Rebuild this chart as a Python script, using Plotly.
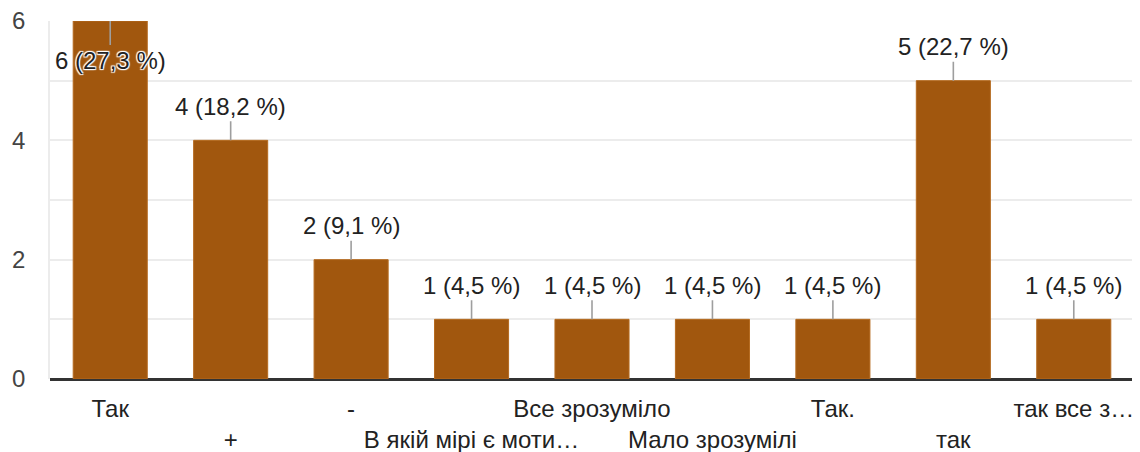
import plotly.graph_objects as go

categories = ["Так", "+", "-", "В якій мірі є моти…", "Все зрозуміло",
              "Мало зрозумілі", "Так.", "так", "так все з…"]
counts = [6, 4, 2, 1, 1, 1, 1, 5, 1]
percents = ["27,3", "18,2", "9,1", "4,5", "4,5", "4,5", "4,5", "22,7", "4,5"]
y_ticks = [0, 2, 4, 6]

BAR = "#a1570e"
FONT = "Liberation Sans, Arial, sans-serif"

x = list(range(len(categories)))
ticktext = [c if i % 2 == 0 else "<br>" + c for i, c in enumerate(categories)]

fig = go.Figure()
fig.add_trace(go.Bar(
    x=x, y=counts, marker=dict(color=BAR, line=dict(color="#b56a1f", width=1)),
    width=0.615, hoverinfo="skip",
))

ymax = max(counts)
halo = "1px 1px 1px white, -1px -1px 1px white, 1px -1px 1px white, -1px 1px 1px white, 0 0 2px white"
for i, (c, p) in enumerate(zip(counts, percents)):
    inside = c >= ymax
    fig.add_annotation(
        x=i, y=c, xref="x", yref="y",
        text=f"{c} ({p} %)",
        showarrow=True, arrowhead=0, arrowwidth=1.6, arrowcolor="#9e9e9e",
        ax=0, ay=(39 if inside else -34), standoff=0,
        font=dict(family=FONT, size=24, color="#222222",
                  shadow=halo if inside else "none"),
    )

# page body has an 8px default margin; figure sized to fit the 1140x452 window
fig.update_layout(
    width=1132, height=444,
    margin=dict(l=42, r=6, t=13, b=73),
    paper_bgcolor="white", plot_bgcolor="white",
    showlegend=False,
    font=dict(family=FONT, size=24, color="#444444"),
    bargap=0.385,
    xaxis=dict(
        tickmode="array", tickvals=x, ticktext=ticktext,
        range=[-0.5, len(categories) - 0.5],
        showgrid=False, zeroline=False, showline=False,
        ticks="", ticklabelstandoff=13, tickangle=0, automargin=False,
        ticklabeloverflow="allow",
        tickfont=dict(family=FONT, size=24, color="#222222"),
    ),
    yaxis=dict(
        range=[0, 6], tickmode="array", tickvals=y_ticks,
        showgrid=True, gridcolor="#ececec", gridwidth=1.5,
        minor=dict(dtick=1, showgrid=True, gridcolor="#ececec", gridwidth=1.5),
        zeroline=True, zerolinecolor="#333333", zerolinewidth=2.5,
        showline=True, linecolor="#ececec", linewidth=1.7,
        ticks="", ticklabelstandoff=18, automargin=False,
        ticklabeloverflow="allow",
        tickfont=dict(family=FONT, size=24, color="#444444"),
    ),
)

fig.write_html("out.html")
